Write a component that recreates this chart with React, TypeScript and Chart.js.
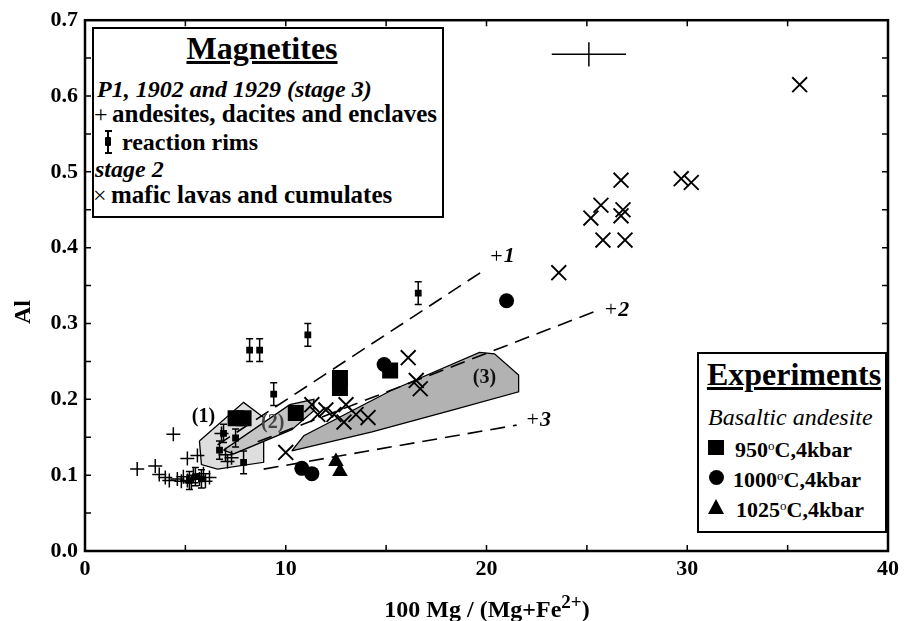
import React, { useEffect, useRef } from 'react';
import { Chart, registerables } from 'chart.js';

Chart.register(...registerables);

const FONT = '"Liberation Serif", "Times New Roman", serif';

type P = [number, number];

// ---------- data ----------
const xTickValues = [0, 10, 20, 30, 40];
const yTickValues = [0, 0.1, 0.2, 0.3, 0.4, 0.5, 0.6, 0.7];
const xMinorTicks = [5, 10, 15, 20, 25, 30, 35];
const yMinorTicks = [0.05, 0.1, 0.15, 0.2, 0.25, 0.3, 0.35, 0.4, 0.45, 0.5, 0.55, 0.6, 0.65];

// stage 3 : andesites, dacites and enclaves (+)
const andesites: P[] = [
  [2.6, 0.108], [3.5, 0.112], [3.7, 0.101], [4.0, 0.097], [4.2, 0.093], [4.4, 0.154],
  [4.6, 0.095], [4.8, 0.092], [4.9, 0.098], [5.1, 0.093], [5.1, 0.122], [5.3, 0.09],
  [5.4, 0.1], [5.6, 0.126], [5.7, 0.095], [5.9, 0.102], [6.0, 0.092], [6.2, 0.097],
  [6.8, 0.155], [7.0, 0.127], [7.1, 0.118], [7.3, 0.123],
];
// stage 3 : reaction rims (square with vertical error bar)
const reactionRims: P[] = [
  [5.2, 0.093], [5.5, 0.098], [5.8, 0.095], [6.7, 0.133], [6.9, 0.155], [7.5, 0.149],
  [7.9, 0.117], [8.2, 0.265], [8.7, 0.265], [9.4, 0.207], [11.1, 0.285], [16.6, 0.34],
];
const reactionRimErr = [0.012, 0.012, 0.012, 0.012, 0.012, 0.012, 0.015, 0.015, 0.015, 0.015, 0.015, 0.015];
// stage 2 : mafic lavas and cumulates (x)
const maficLavas: P[] = [
  [10.0, 0.13], [11.3, 0.193], [11.6, 0.18], [12.0, 0.186], [12.4, 0.18], [13.0, 0.193],
  [12.9, 0.17], [13.5, 0.18], [14.1, 0.176], [16.1, 0.255], [16.5, 0.225], [16.7, 0.214],
  [23.6, 0.367], [25.2, 0.439], [25.7, 0.456], [25.8, 0.41], [26.7, 0.489], [26.8, 0.45],
  [26.7, 0.442], [26.9, 0.41], [29.7, 0.491], [30.2, 0.486], [35.6, 0.615],
];
// experiments, basaltic andesite
const exp950: P[] = [[7.5, 0.175], [7.9, 0.175], [10.5, 0.182], [12.7, 0.215], [12.7, 0.228], [15.2, 0.238]];
const exp1000: P[] = [[10.8, 0.109], [11.3, 0.102], [14.9, 0.246], [21.0, 0.33]];
const exp1025: P[] = [[12.5, 0.118], [12.7, 0.105]];
// representative analytical error cross
const errCrossCentre: P = [25.1, 0.655];
const errCrossX = 1.85;
const errCrossY = 0.016;
// trend lines 1-3
const trend1: P[] = [[6.6, 0.14], [19.75, 0.368]];
const trend2: P[] = [[8.6, 0.144], [25.5, 0.317]];
const trend3: P[] = [[8.9, 0.108], [21.5, 0.166]];
const trendLabels = ['1', '2', '3'];
const trendLabelAt: P[] = [[20.8, 0.388], [26.5, 0.318], [22.6, 0.172]];
// fields (1), (2), (3)
const field1: P[] = [[5.7, 0.145], [7.9, 0.196], [8.9, 0.176], [8.9, 0.117], [6.6, 0.108], [5.8, 0.114], [5.7, 0.145]];
const field2: P[] = [[6.9, 0.133], [10.2, 0.193], [11.4, 0.2], [11.4, 0.185], [10.3, 0.16], [7.4, 0.128], [6.9, 0.133]];
const field3: P[] = [[10.3, 0.132], [10.9, 0.152], [15.2, 0.211], [19.65, 0.262], [20.4, 0.26], [21.6, 0.232], [21.6, 0.21], [18.2, 0.185], [14.3, 0.157], [10.3, 0.132]];
const fieldLabels = ['(1)', '(2)', '(3)'];
const fieldLabelAt: P[] = [[5.9, 0.177], [9.35, 0.169], [19.9, 0.228]];
const fieldLabelColors = ['#000', '#444', '#111'];

const toXY = (a: P[]) => a.map(([x, y]) => ({ x, y }));

const decorPlugin = {
  id: 'decor',
  afterDatasetsDraw(chart: any) {
    const { ctx, scales } = chart;
    const xs = scales.x, ys = scales.y;
    ctx.save();
    ctx.strokeStyle = '#000';
    ctx.lineWidth = 1.5;
    // reaction rim error bars
    reactionRims.forEach(([x, y], i) => {
      const px = xs.getPixelForValue(x);
      const p1 = ys.getPixelForValue(y - reactionRimErr[i]);
      const p2 = ys.getPixelForValue(y + reactionRimErr[i]);
      ctx.beginPath();
      ctx.moveTo(px, p1); ctx.lineTo(px, p2);
      ctx.moveTo(px - 3.5, p1); ctx.lineTo(px + 3.5, p1);
      ctx.moveTo(px - 3.5, p2); ctx.lineTo(px + 3.5, p2);
      ctx.stroke();
    });
    // error cross
    const cx = xs.getPixelForValue(errCrossCentre[0]);
    const cy = ys.getPixelForValue(errCrossCentre[1]);
    ctx.beginPath();
    ctx.moveTo(xs.getPixelForValue(errCrossCentre[0] - errCrossX), cy);
    ctx.lineTo(xs.getPixelForValue(errCrossCentre[0] + errCrossX), cy);
    ctx.moveTo(cx, ys.getPixelForValue(errCrossCentre[1] - errCrossY));
    ctx.lineTo(cx, ys.getPixelForValue(errCrossCentre[1] + errCrossY));
    ctx.stroke();
    // trend labels
    ctx.fillStyle = '#000';
    ctx.textBaseline = 'middle';
    trendLabels.forEach((t, i) => {
      const px = xs.getPixelForValue(trendLabelAt[i][0]);
      const py = ys.getPixelForValue(trendLabelAt[i][1]);
      ctx.font = `22px ${FONT}`;
      const w1 = ctx.measureText('+').width;
      ctx.font = `bold italic 22px ${FONT}`;
      const w2 = ctx.measureText(t).width;
      const x0 = px - (w1 + w2 + 1) / 2;
      ctx.font = `22px ${FONT}`;
      ctx.fillText('+', x0, py);
      ctx.font = `bold italic 22px ${FONT}`;
      ctx.fillText(t, x0 + w1 + 1, py);
    });
    // field labels
    ctx.textAlign = 'center';
    ctx.font = `bold 20px ${FONT}`;
    fieldLabels.forEach((t, i) => {
      ctx.fillStyle = fieldLabelColors[i];
      ctx.fillText(t, xs.getPixelForValue(fieldLabelAt[i][0]), ys.getPixelForValue(fieldLabelAt[i][1]));
    });
    ctx.restore();
  },
  afterDraw(chart: any) {
    const { ctx, chartArea: a, scales } = chart;
    const xs = scales.x, ys = scales.y;
    ctx.save();
    ctx.strokeStyle = '#000';
    ctx.lineWidth = 1.5;
    ctx.beginPath();
    xMinorTicks.forEach((v) => {
      const px = xs.getPixelForValue(v);
      ctx.moveTo(px, a.bottom); ctx.lineTo(px, a.bottom - 6);
      ctx.moveTo(px, a.top); ctx.lineTo(px, a.top + 6);
    });
    yMinorTicks.forEach((v) => {
      const py = ys.getPixelForValue(v);
      ctx.moveTo(a.left, py); ctx.lineTo(a.left + 6, py);
      ctx.moveTo(a.right, py); ctx.lineTo(a.right - 6, py);
    });
    ctx.stroke();
    ctx.lineWidth = 2.5;
    ctx.strokeRect(a.left, a.top, a.right - a.left, a.bottom - a.top);
    ctx.restore();
  },
};

type TP = { x: number; base: number; size: number; bold?: boolean; italic?: boolean; center?: boolean; underline?: boolean; children: any };
const T = ({ x, base, size, bold = true, italic = false, center = false, underline = false, children }: TP) => (
  <div
    style={{
      position: 'absolute',
      left: x,
      top: base - 0.8375 * size,
      fontSize: size,
      lineHeight: `${size}px`,
      fontWeight: bold ? 'bold' : 'normal',
      fontStyle: italic ? 'italic' : 'normal',
      textDecoration: underline ? 'underline' : 'none',
      whiteSpace: 'nowrap',
      transform: center ? 'translateX(-50%)' : undefined,
    }}
  >
    {children}
  </div>
);

const Deg = () => <span style={{ fontSize: 13, fontWeight: 'normal', verticalAlign: 7 }}>o</span>;

export default function App() {
  const ref = useRef<HTMLCanvasElement>(null);
  useEffect(() => {
    if (!ref.current) return;
    const chart = new Chart(ref.current, {
      type: 'scatter',
      data: {
        datasets: [
          { type: 'line', data: toXY(field3), borderColor: '#000', borderWidth: 1.3, backgroundColor: '#b2b2b2', fill: 'shape', pointRadius: 0, tension: 0, order: 9 } as any,
          { type: 'line', data: toXY(field1), borderColor: '#000', borderWidth: 1.3, backgroundColor: '#dedede', fill: 'shape', pointRadius: 0, tension: 0, order: 8 } as any,
          { type: 'line', data: toXY(field2), borderColor: '#000', borderWidth: 1.3, backgroundColor: '#c4c4c4', fill: 'shape', pointRadius: 0, tension: 0, order: 7 } as any,
          { type: 'line', data: toXY(trend1), borderColor: '#000', borderWidth: 1.6, borderDash: [15, 8], fill: false, pointRadius: 0, order: 6 } as any,
          { type: 'line', data: toXY(trend2), borderColor: '#000', borderWidth: 1.6, borderDash: [15, 8], fill: false, pointRadius: 0, order: 6 } as any,
          { type: 'line', data: toXY(trend3), borderColor: '#000', borderWidth: 1.6, borderDash: [15, 8], fill: false, pointRadius: 0, order: 6 } as any,
          { data: toXY(andesites), pointStyle: 'cross', pointRadius: 7, borderColor: '#000', borderWidth: 1.5, order: 3 },
          { data: toXY(reactionRims), pointStyle: 'rect', pointRadius: 4.8, backgroundColor: '#000', borderColor: '#000', borderWidth: 0, order: 2 },
          { data: toXY(maficLavas), pointStyle: 'crossRot', pointRadius: 10.5, borderColor: '#000', borderWidth: 1.9, order: 3 },
          { data: toXY(exp950), pointStyle: 'rect', pointRadius: 11.3, backgroundColor: '#000', borderColor: '#000', borderWidth: 0, order: 1 },
          { data: toXY(exp1000), pointStyle: 'circle', pointRadius: 7.5, backgroundColor: '#000', borderColor: '#000', borderWidth: 0, order: 1 },
          { data: toXY(exp1025), pointStyle: 'triangle', pointRadius: 9, backgroundColor: '#000', borderColor: '#000', borderWidth: 0, order: 1 },
        ],
      },
      options: {
        animation: false,
        responsive: false,
        events: [],
        layout: { padding: { left: 0, right: 14, top: 17, bottom: 0 } },
        plugins: { legend: { display: false }, tooltip: { enabled: false } },
        scales: {
          x: {
            type: 'linear', min: 0, max: 40,
            afterFit: (s: any) => { s.height = 70; },
            afterBuildTicks: (s: any) => { s.ticks = xTickValues.map((v) => ({ value: v })); },
            ticks: { autoSkip: false, maxRotation: 0, color: '#000', padding: 5, font: { family: FONT, size: 22, weight: 'bold' } },
            grid: { display: false, drawTicks: false },
            border: { display: false },
          },
          y: {
            type: 'linear', min: 0, max: 0.7,
            afterFit: (s: any) => { s.width = 85; },
            afterBuildTicks: (s: any) => { s.ticks = yTickValues.map((v) => ({ value: v })); },
            ticks: { autoSkip: false, color: '#000', padding: 7, font: { family: FONT, size: 22, weight: 'bold' }, callback: (v: any) => Number(v).toFixed(1) },
            grid: { display: false, drawTicks: false },
            border: { display: false },
          },
        },
      } as any,
      plugins: [decorPlugin],
    });
    return () => chart.destroy();
  }, []);

  return (
    <div style={{ position: 'absolute', left: 0, top: 0, width: 904, height: 621, fontFamily: FONT, color: '#000', background: '#fff', overflow: 'hidden' }}>
      <canvas ref={ref} width={904} height={621} style={{ position: 'absolute', left: 0, top: 0, width: 904, height: 621 }} />
      {/* Magnetites legend */}
      <div style={{ position: 'absolute', left: 92, top: 27, width: 352, height: 191, border: '2px solid #000', boxSizing: 'border-box', background: '#fff' }} />
      <T x={262} base={59} size={32} center underline>Magnetites</T>
      <T x={97} base={97} size={24} italic>P1, 1902 and 1929 (stage 3)</T>
      <T x={94} base={122} size={24} bold={false}>+</T>
      <T x={112} base={122} size={25}>andesites, dacites and enclaves</T>
      <div style={{ position: 'absolute', left: 107, top: 131, width: 2, height: 22, background: '#000' }} />
      <div style={{ position: 'absolute', left: 104.5, top: 130, width: 7, height: 2, background: '#000' }} />
      <div style={{ position: 'absolute', left: 104.5, top: 152, width: 7, height: 2, background: '#000' }} />
      <div style={{ position: 'absolute', left: 105, top: 137, width: 6, height: 9, background: '#000', borderRadius: 1 }} />
      <T x={122} base={150} size={24}>reaction rims</T>
      <T x={95} base={177} size={24} italic>stage 2</T>
      <T x={93} base={203} size={24} bold={false}>×</T>
      <T x={111} base={203} size={25}>mafic lavas and cumulates</T>
      {/* Experiments legend */}
      <div style={{ position: 'absolute', left: 697, top: 352, width: 190, height: 181, border: '2px solid #000', boxSizing: 'border-box', background: '#fff' }} />
      <T x={794} base={385} size={32} center underline>Experiments</T>
      <T x={708} base={425} size={24} bold={false} italic>Basaltic andesite</T>
      <div style={{ position: 'absolute', left: 708, top: 440, width: 16, height: 15, background: '#000' }} />
      <T x={735} base={453} size={22}>950<Deg />C,4kbar</T>
      <div style={{ position: 'absolute', left: 708.5, top: 469.5, width: 15, height: 15, borderRadius: '50%', background: '#000' }} />
      <T x={733} base={483} size={22}>1000<Deg />C,4kbar</T>
      <div style={{ position: 'absolute', left: 708, top: 499, width: 0, height: 0, borderLeft: '8.5px solid transparent', borderRight: '8.5px solid transparent', borderBottom: '15px solid #000' }} />
      <T x={736} base={513} size={22}>1025<Deg />C,4kbar</T>
      {/* axis titles */}
      <div style={{ position: 'absolute', left: 22, top: 312, transform: 'translate(-50%, -50%) rotate(-90deg)', fontSize: 24, fontWeight: 'bold', whiteSpace: 'nowrap', lineHeight: '24px' }}>Al</div>
      <T x={487} base={610} size={24} center>
        100 Mg / (Mg+Fe<span style={{ fontSize: 19, verticalAlign: 9 }}>2+</span>)
      </T>
    </div>
  );
}
